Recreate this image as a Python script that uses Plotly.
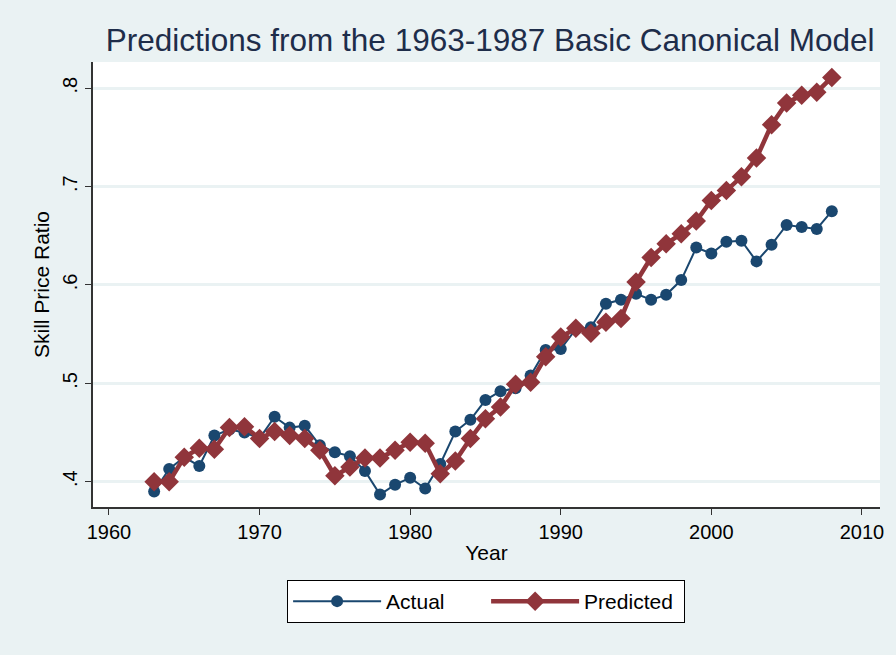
import plotly.graph_objects as go

years = list(range(1963, 2009))
actual = [0.390, 0.413, 0.425, 0.416, 0.447, 0.453, 0.450, 0.444, 0.466, 0.455,
          0.457, 0.437, 0.430, 0.426, 0.411, 0.387, 0.397, 0.404, 0.393, 0.418,
          0.451, 0.463, 0.483, 0.492, 0.495, 0.508, 0.534, 0.535, 0.555, 0.557,
          0.581, 0.585, 0.591, 0.585, 0.590, 0.605, 0.638, 0.632, 0.644, 0.645,
          0.624, 0.641, 0.661, 0.659, 0.657, 0.675]
predicted = [0.400, 0.400, 0.425, 0.434, 0.433, 0.455, 0.456, 0.444, 0.451, 0.447,
             0.444, 0.432, 0.406, 0.415, 0.424, 0.424, 0.432, 0.440, 0.439, 0.408,
             0.421, 0.444, 0.464, 0.476, 0.499, 0.501, 0.527, 0.547, 0.556, 0.551,
             0.562, 0.566, 0.603, 0.628, 0.642, 0.652, 0.665, 0.686, 0.696, 0.710,
             0.729, 0.763, 0.785, 0.793, 0.796, 0.811]
ytick_vals = [0.4, 0.5, 0.6, 0.7, 0.8]
ytick_text = [".4", ".5", ".6", ".7", ".8"]
xtick_vals = [1960, 1970, 1980, 1990, 2000, 2010]

FONT = "Liberation Sans, Arial, sans-serif"
BG = "#eaf2f3"

fig = go.Figure()
fig.add_trace(go.Scatter(
    x=years, y=actual, name="Actual", mode="lines+markers",
    line=dict(color="#1a476f", width=2),
    marker=dict(symbol="circle", size=12, color="#1a476f"),
))
fig.add_trace(go.Scatter(
    x=years, y=predicted, name="Predicted", mode="lines+markers",
    line=dict(color="#90353b", width=4.5),
    marker=dict(symbol="diamond", size=15, color="#90353b"),
))

fig.update_layout(
    width=896, height=655,
    paper_bgcolor=BG, plot_bgcolor="white",
    margin=dict(l=93, r=14, t=62, b=148),
    title=dict(text="Predictions from the 1963-1987 Basic Canonical Model",
               x=0.547, xanchor="center", y=0.939, yanchor="middle",
               font=dict(family=FONT, size=31.5, color="#1e2d4a")),
    font=dict(family=FONT, color="black"),
    showlegend=True,
    legend=dict(orientation="h", x=0.4995, xanchor="center", y=-0.164, yanchor="top",
                bgcolor="white", bordercolor="black", borderwidth=1,
                font=dict(family=FONT, size=21, color="black"),
                itemwidth=88, entrywidth=95, entrywidthmode="pixels",
                traceorder="normal"),
)
fig.update_xaxes(
    range=[1958.94, 2011.2], tickvals=xtick_vals, ticks="outside", ticklen=6,
    tickcolor="#333", showline=True, linecolor="#333", linewidth=1.5,
    showgrid=False, zeroline=False,
    tickfont=dict(family=FONT, size=20, color="black"),
    title=dict(text="Year", font=dict(family=FONT, size=21, color="black"), standoff=4),
)
fig.update_yaxes(
    range=[0.3743, 0.8267], tickvals=ytick_vals, ticktext=ytick_text,
    tickangle=-90, ticks="outside", ticklen=6, tickcolor="#333",
    showline=True, linecolor="#333", linewidth=1.5,
    showgrid=True, gridcolor=BG, gridwidth=2.5, zeroline=False,
    tickfont=dict(family=FONT, size=20, color="black"),
    title=dict(text="Skill Price Ratio", font=dict(family=FONT, size=21, color="black"), standoff=4),
)

fig.write_html("out.html", config={"displayModeBar": False},
               post_script="document.body.style.margin='0';")
